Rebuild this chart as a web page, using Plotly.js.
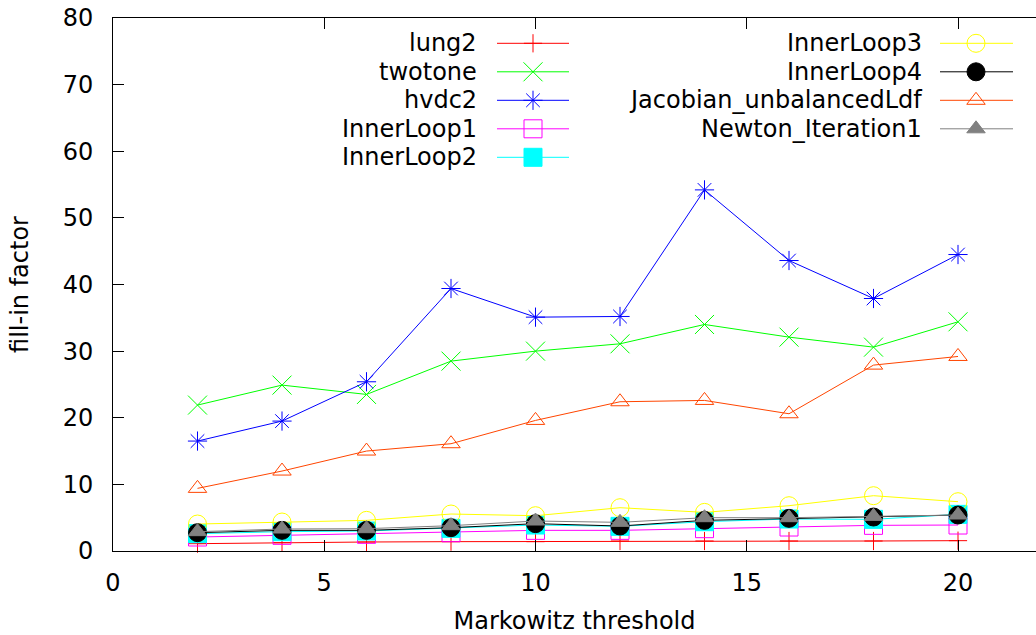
<!DOCTYPE html>
<html>
<head>
<meta charset="utf-8">
<script src="https://cdn.plot.ly/plotly-3.0.1.min.js"></script>
<style>html,body{margin:0;padding:0;background:#fff;}#chart{width:1036px;height:635px;}</style>
</head>
<body>
<div id="chart"></div>
<script>
// ---- data ----
const thresholds = [2, 4, 6, 8, 10, 12, 14, 16, 18, 20];
const lung2 = [1.1, 1.25, 1.35, 1.4, 1.4, 1.5, 1.5, 1.5, 1.5, 1.55];
const twotone = [21.9, 24.9, 23.5, 28.5, 30.0, 31.1, 34.0, 32.1, 30.6, 34.4];
const hvdc2 = [16.5, 19.5, 25.4, 39.4, 35.1, 35.2, 54.2, 43.6, 37.9, 44.5];
const innerLoop1 = [2.1, 2.35, 2.5, 2.75, 3.1, 3.1, 3.35, 3.6, 3.85, 3.9];
const innerLoop2 = [2.6, 2.9, 3.0, 3.4, 3.9, 3.7, 4.4, 4.8, 4.75, 5.5];
const innerLoop3 = [4.05, 4.35, 4.6, 5.55, 5.3, 6.5, 5.8, 6.8, 8.3, 7.4];
const innerLoop4 = [2.75, 3.1, 3.1, 3.5, 4.1, 3.75, 4.6, 4.9, 5.1, 5.4];
const jacobian = [9.4, 12.0, 15.0, 16.1, 19.6, 22.4, 22.6, 20.6, 27.9, 29.2];
const newton1 = [2.9, 3.3, 3.35, 3.8, 4.5, 4.3, 5.0, 5.0, 5.2, 5.4];

const seriesNames = ["lung2", "twotone", "hvdc2", "InnerLoop1", "InnerLoop2",
  "InnerLoop3", "InnerLoop4", "Jacobian_unbalancedLdf", "Newton_Iteration1"];
const seriesValues = [lung2, twotone, hvdc2, innerLoop1, innerLoop2,
  innerLoop3, innerLoop4, jacobian, newton1];

const xTickVals = [0, 5, 10, 15, 20];
const yTickVals = [0, 10, 20, 30, 40, 50, 60, 70, 80];

// ---- styles ----
const styles = [
  {color: "#ff0000", symbol: "cross-thin-open", size: 13},
  {color: "#00ff00", symbol: "x-thin-open", size: 19},
  {color: "#0000ff", symbol: "asterisk-open", size: 16},
  {color: "#ff00ff", symbol: "square-open", size: 18},
  {color: "#00ffff", symbol: "square", size: 18},
  {color: "#ffff00", symbol: "circle-open", size: 18},
  {color: "#000000", symbol: "circle", size: 18},
  {color: "#ff4500", symbol: "triangle-up-open", size: 16},
  {color: "#808080", symbol: "triangle-up", size: 16}
];

const FONT = "DejaVu Sans, Verdana, sans-serif";
const FS = 24;
const W = 1036, H = 635;
const M = {l: 113, r: 0, t: 18, b: 84};
const plotW = W - M.l - M.r, plotH = H - M.t - M.b;
const pxX = px => (px - M.l) / plotW;
const pxY = py => (H - M.b - py) / plotH;

const traces = seriesNames.map((name, i) => ({
  type: "scatter", mode: "lines+markers", name: name,
  x: thresholds, y: seriesValues[i],
  line: {color: styles[i].color, width: 1},
  marker: {symbol: styles[i].symbol, size: styles[i].size, color: styles[i].color,
           line: {color: styles[i].color, width: 1}},
  cliponaxis: false, showlegend: false, hoverinfo: "x+y+name"
}));

// ---- manual gnuplot-like legend ----
const legendCols = [
  {textRight: 479, lineL: 497, lineR: 569, mark: 533},
  {textRight: 924, lineL: 940, lineR: 1013, mark: 976}
];
const rowTop = 43.3, rowStep = 28.5;
const annotations = [], shapes = [];
seriesNames.forEach((name, i) => {
  const c = i < 5 ? legendCols[0] : legendCols[1];
  const r = i < 5 ? i : i - 5;
  const y = rowTop + r * rowStep;
  annotations.push({text: name, xref: "paper", yref: "paper", x: pxX(c.textRight), y: pxY(y),
    xanchor: "right", yanchor: "middle", showarrow: false,
    font: {family: FONT, size: FS, color: "#000"}});
  shapes.push({type: "line", xref: "paper", yref: "paper", x0: pxX(c.lineL), x1: pxX(c.lineR),
    y0: pxY(y), y1: pxY(y), line: {color: styles[i].color, width: 1}});
  traces.push({type: "scatter", mode: "markers", xaxis: "x2", yaxis: "y2",
    x: [pxX(c.mark)], y: [pxY(y)], showlegend: false, hoverinfo: "skip", cliponaxis: false,
    marker: {symbol: styles[i].symbol, size: styles[i].size, color: styles[i].color,
             line: {color: styles[i].color, width: 1}}});
});

const layout = {
  width: W, height: H,
  margin: M,
  paper_bgcolor: "#fff", plot_bgcolor: "#fff",
  showlegend: false,
  font: {family: FONT, size: FS, color: "#000"},
  xaxis: {
    range: [0, plotW / 42.25], tickvals: xTickVals, ticktext: xTickVals.map(String),
    ticks: "inside", ticklen: 11, tickcolor: "#000", tickwidth: 1,
    showline: true, linecolor: "#000", linewidth: 1, mirror: "ticks",
    showgrid: false, zeroline: false,
    tickfont: {family: FONT, size: FS, color: "#000"},
    ticklabelstandoff: 10,
    title: {text: "Markowitz threshold", font: {family: FONT, size: FS, color: "#000"}, standoff: 18}
  },
  yaxis: {
    range: [0, 80], tickvals: yTickVals, ticktext: yTickVals.map(String),
    ticks: "inside", ticklen: 11, tickcolor: "#000", tickwidth: 1,
    showline: true, linecolor: "#000", linewidth: 1, mirror: false,
    showgrid: false, zeroline: false,
    tickfont: {family: FONT, size: FS, color: "#000"},
    ticklabelstandoff: 14,
    title: {text: "fill-in factor", font: {family: FONT, size: FS, color: "#000"}, standoff: 27}
  },
  xaxis2: {overlaying: "x", range: [0, 1], visible: false, fixedrange: true},
  yaxis2: {overlaying: "y", range: [0, 1], visible: false, fixedrange: true},
  annotations: annotations,
  shapes: shapes
};

Plotly.newPlot("chart", traces, layout, {displayModeBar: false, staticPlot: true});
</script>
</body>
</html>
